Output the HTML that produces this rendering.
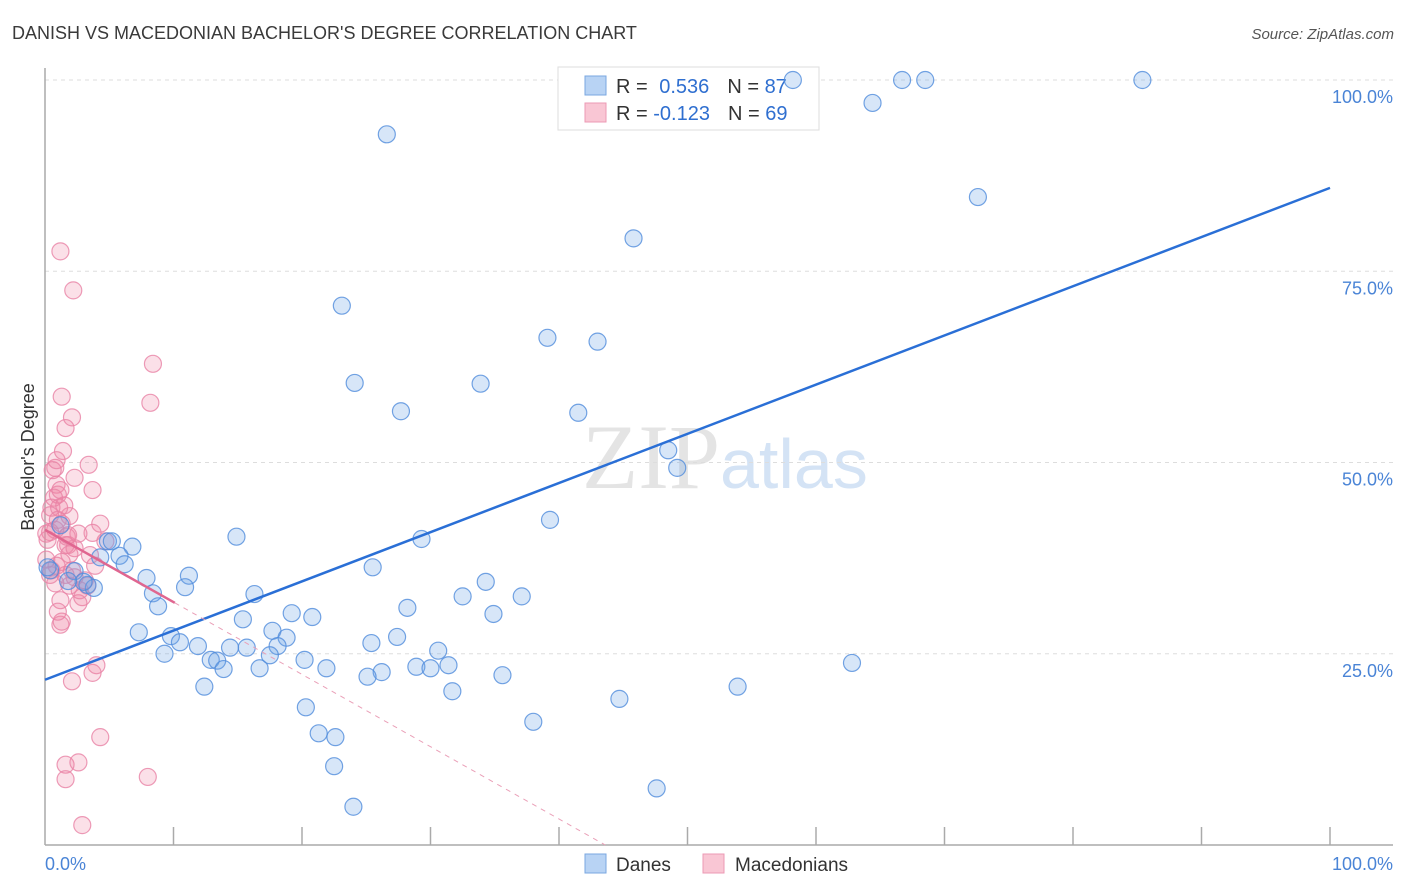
<!DOCTYPE html>
<html><head><meta charset="utf-8"><style>
body{margin:0;background:#fff;font-family:"Liberation Sans",sans-serif}
#wrap{position:relative;width:1406px;height:892px;overflow:hidden}
svg{position:absolute;left:0;top:0}
</style></head><body>
<div id="wrap">
<svg id="s" width="1406" height="892">
<text x="12" y="39" font-size="18" fill="#3a3a3a">DANISH VS MACEDONIAN BACHELOR'S DEGREE CORRELATION CHART</text>
<text x="1394" y="39" font-size="15" fill="#555" font-style="italic" text-anchor="end">Source: ZipAtlas.com</text>
<text x="720" y="488" font-size="92" fill="#e4e4e4" font-family="Liberation Serif" text-anchor="end">ZIP</text>
<text x="720" y="488" font-size="70" fill="#d4e3f5">atlas</text>
<text transform="translate(34,457) rotate(-90)" font-size="18" fill="#333" text-anchor="middle">Bachelor's Degree</text>
<g id="grid"></g>
<g>
<rect x="558" y="67" width="261" height="63" fill="#fff" stroke="#ddd"/>
<rect x="585" y="76" width="21" height="19" fill="#b8d3f4" stroke="#7aa7e0"/>
<rect x="585" y="103" width="21" height="19" fill="#f9c6d4" stroke="#ec9ab4"/>
<text x="616" y="93" font-size="20" fill="#333">R = <tspan fill="#2f6fd0" dx="6">0.536</tspan><tspan fill="#333" dx="18">N = </tspan><tspan fill="#2f6fd0">87</tspan></text>
<text x="616" y="120" font-size="20" fill="#333">R = <tspan fill="#2f6fd0">-0.123</tspan><tspan fill="#333" dx="18">N = </tspan><tspan fill="#2f6fd0">69</tspan></text>
</g>
<g id="pts"></g><g id="lines"></g>
<g>
<rect x="585" y="854" width="21" height="19" fill="#b8d3f4" stroke="#7aa7e0"/>
<text x="616" y="871" font-size="19" fill="#333">Danes</text>
<rect x="703" y="854" width="21" height="19" fill="#f9c6d4" stroke="#ec9ab4"/>
<text x="735" y="871" font-size="19" fill="#333">Macedonians</text>
</g>
</svg></div>
<script>
const danesX=[58.2,66.7,68.5,85.4,64.4,26.6,72.6,45.8,23.1,39.1,43.0,24.1,33.9,27.7,41.5,48.5,49.2,39.3,14.9,29.3,4.9,6.8,5.2,5.8,6.2,4.3,25.5,7.9,11.2,10.9,8.4,3.3,3.8,2.3,3.0,8.8,16.3,34.3,37.1,32.5,28.2,19.2,20.8,34.9,15.4,7.3,9.8,10.5,17.7,18.8,27.4,25.4,11.9,14.4,15.7,18.1,9.3,30.6,12.9,13.4,13.9,20.2,21.9,16.7,17.5,31.4,28.9,30.0,26.2,25.1,35.6,62.8,12.4,53.9,31.7,44.7,20.3,38.0,21.3,22.6,22.5,47.6,24.0,0.4,1.2,0.2,1.8];
const danesY=[100,100,100,100,97.0,92.9,84.7,79.3,70.5,66.3,65.8,60.4,60.3,56.7,56.5,51.6,49.3,42.5,40.3,40.0,39.7,39.0,39.7,37.8,36.7,37.6,36.3,34.9,35.2,33.7,32.9,34.0,33.6,35.8,34.4,31.2,32.8,34.4,32.5,32.5,31.0,30.3,29.8,30.2,29.5,27.8,27.3,26.5,28.0,27.1,27.2,26.4,26.0,25.8,25.8,26.0,25.0,25.4,24.2,24.1,23.0,24.2,23.1,23.1,24.8,23.5,23.3,23.1,22.6,22.0,22.2,23.8,20.7,20.7,20.1,19.1,18.0,16.1,14.6,14.1,10.3,7.4,5.0,35.9,41.8,36.3,34.5];
const macX=[1.2,2.2,8.4,8.2,1.3,2.1,1.6,1.4,3.4,0.8,2.3,3.7,0.9,1.0,0.7,1.1,0.5,0.4,1.9,4.3,1.3,0.8,0.4,0.1,3.7,2.6,1.8,1.6,4.7,1.9,1.3,3.9,0.9,0.5,1.6,2.3,1.9,2.9,2.6,1.2,0.8,3.3,1.2,1.3,4.0,3.7,2.1,4.3,1.6,2.6,1.6,8.0,2.9,0.4,1.0,0.2,1.7,3.1,1.2,0.6,0.9,1.5,1.8,2.3,3.5,1.0,0.1,2.7,2.1];
const macY=[77.6,72.5,62.9,57.8,58.6,55.9,54.5,51.5,49.7,49.3,48.0,46.4,47.1,45.8,45.4,44.1,44.1,43.1,43.0,42.0,42.0,41.2,40.9,40.7,40.8,40.7,39.2,39.2,39.7,38.0,37.0,36.5,36.5,35.9,35.3,35.0,33.9,32.4,31.6,32.0,34.2,33.9,28.8,29.2,23.5,22.5,21.4,14.1,10.5,10.8,8.6,8.9,2.6,35.3,42.5,39.9,40.3,34.6,46.4,49.0,50.3,44.4,40.5,38.8,37.9,30.5,37.3,33.3,35.9];
const danesTrend=[21.6,85.9];
const macTrend=[41.2,-0.945,10.1];
const yTicks=[25,50,75,100];
const yTickLabels=["25.0%","50.0%","75.0%","100.0%"];
const xTicks=[0,10,20,30,40,50,60,70,80,90,100];
const NS="http://www.w3.org/2000/svg";
const X=v=>45+v*12.85, Y=v=>845-v*7.65;
function mk(p,tag,a){const e=document.createElementNS(NS,tag);for(const k in a)e.setAttribute(k,a[k]);p.appendChild(e);return e;}
const g=document.getElementById('grid');
yTicks.forEach((t,i)=>{
 const l=mk(g,'line',{x1:45,x2:1393,y1:Y(t),y2:Y(t),stroke:'#ddd','stroke-dasharray':'4,4'});
 
 
 const tx=mk(g,'text',{x:1393,y:Y(t)+23,'font-size':18,fill:'#4a84d6','text-anchor':'end'});
 tx.textContent=yTickLabels[i];
 
 
});
mk(g,'line',{x1:45,x2:45,y1:68,y2:845,stroke:'#aaa','stroke-width':1.5});
mk(g,'line',{x1:45,x2:1393,y1:845,y2:845,stroke:'#aaa','stroke-width':1.5});
xTicks.forEach(t=>{if(t>0){const l=mk(g,'line',{x1:X(t),x2:X(t),y1:827,y2:845,stroke:'#aaa','stroke-width':1.5});
 
 }});
let t0=mk(g,'text',{x:45,y:870,'font-size':18,fill:'#4a84d6'});t0.textContent='0.0%';


let t1=mk(g,'text',{x:1393,y:870,'font-size':18,fill:'#4a84d6','text-anchor':'end'});t1.textContent='100.0%';


const P=document.getElementById('pts');
macX.forEach((x,i)=>{const c=mk(P,'circle',{cx:X(x),cy:Y(macY[i]),r:8.5,fill:'rgba(240,130,165,0.25)',stroke:'rgba(232,130,165,0.8)','stroke-width':1.2});
 
 });
danesX.forEach((x,i)=>{const c=mk(P,'circle',{cx:X(x),cy:Y(danesY[i]),r:8.5,fill:'rgba(110,165,230,0.28)',stroke:'rgba(80,140,220,0.8)','stroke-width':1.2});
 
 });
const L=document.getElementById('lines');
let bl=mk(L,'line',{x1:X(0),y1:Y(danesTrend[0]),x2:X(100),y2:Y(danesTrend[1]),stroke:'#2a6fd6','stroke-width':2.5});


const my=x=>macTrend[0]+macTrend[1]*x, xe=-macTrend[0]/macTrend[1];
let pl=mk(L,'line',{x1:X(0),y1:Y(my(0)),x2:X(macTrend[2]),y2:Y(my(macTrend[2])),stroke:'#e06690','stroke-width':2.5});


let pd=mk(L,'line',{x1:X(macTrend[2]),y1:Y(my(macTrend[2])),x2:X(xe),y2:Y(0),stroke:'#eaa0b8','stroke-width':1,'stroke-dasharray':'5,5'});


</script>
</body></html>
